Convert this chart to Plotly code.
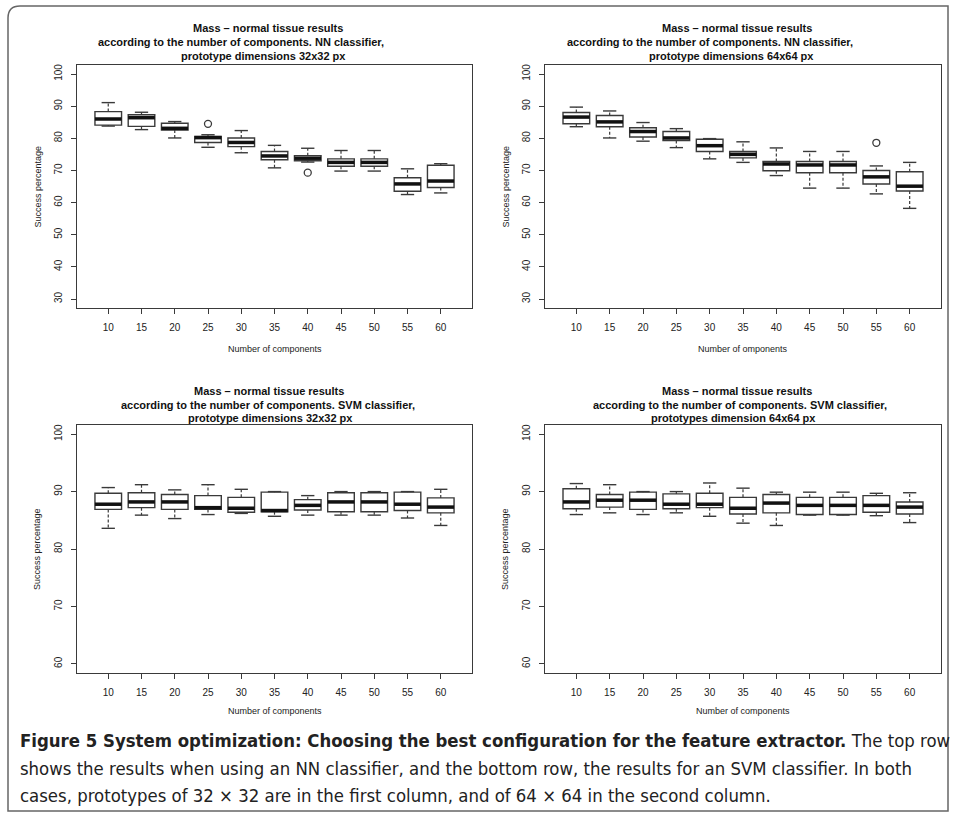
import plotly.graph_objects as go

# ---------------- data ----------------
categories = [10, 15, 20, 25, 30, 35, 40, 45, 50, 55, 60]

nn32_upper = [91.1, 88.1, 85.2, 81.1, 82.4, 77.8, 76.9, 76.2, 76.2, 70.5, 72.1]
nn32_q3    = [88.3, 87.3, 84.7, 80.6, 80.1, 75.9, 74.6, 73.6, 73.6, 67.7, 71.6]
nn32_med   = [86.0, 86.4, 83.1, 80.2, 78.7, 74.5, 73.8, 72.5, 72.5, 65.8, 66.7]
nn32_q1    = [84.1, 83.7, 82.6, 78.7, 77.4, 73.3, 73.0, 71.3, 71.3, 63.5, 64.7]
nn32_lower = [83.8, 82.7, 80.1, 77.2, 75.5, 70.8, 72.6, 69.8, 69.8, 62.5, 63.0]
nn32_out_x = [25, 40]
nn32_out_y = [84.5, 69.3]

nn64_upper = [89.7, 88.5, 84.9, 83.0, 79.9, 78.9, 77.0, 75.9, 75.9, 71.4, 72.5]
nn64_q3    = [88.0, 87.1, 83.3, 82.1, 79.7, 75.9, 72.8, 72.8, 72.8, 70.0, 69.6]
nn64_med   = [86.6, 85.1, 82.1, 80.1, 77.7, 75.0, 72.0, 71.7, 71.7, 68.0, 65.1]
nn64_q1    = [84.5, 83.6, 80.4, 79.3, 75.9, 73.9, 69.9, 69.3, 69.3, 65.8, 63.6]
nn64_lower = [83.6, 80.1, 79.1, 77.1, 73.6, 72.5, 68.4, 64.5, 64.5, 62.7, 58.2]
nn64_out_x = [55]
nn64_out_y = [78.6]

svm32_upper = [90.7, 91.2, 90.3, 91.2, 90.4, 90.0, 89.3, 90.0, 90.0, 90.0, 90.4]
svm32_q3    = [89.7, 89.8, 89.5, 89.3, 89.0, 89.9, 88.6, 89.8, 89.8, 89.9, 88.9]
svm32_med   = [87.8, 88.2, 88.2, 87.2, 87.1, 86.7, 87.6, 88.2, 88.2, 87.8, 87.3]
svm32_q1    = [86.9, 87.2, 86.9, 86.9, 86.4, 86.5, 86.8, 86.5, 86.5, 86.7, 86.3]
svm32_lower = [83.6, 85.9, 85.3, 86.0, 86.2, 85.7, 85.9, 85.9, 85.9, 85.4, 84.1]

svm64_upper = [91.4, 91.2, 90.0, 90.0, 91.5, 90.6, 89.9, 89.9, 89.9, 89.7, 89.8]
svm64_q3    = [90.5, 89.5, 89.9, 89.6, 89.7, 89.0, 89.5, 89.0, 89.0, 89.3, 88.2]
svm64_med   = [88.2, 88.5, 88.5, 87.8, 87.8, 87.1, 88.0, 87.6, 87.6, 87.6, 87.3]
svm64_q1    = [87.0, 87.3, 86.9, 87.0, 87.2, 86.1, 86.3, 86.0, 86.0, 86.4, 86.1]
svm64_lower = [86.0, 86.3, 86.0, 86.3, 85.7, 84.5, 84.1, 85.9, 85.9, 85.8, 84.6]

top_yticks = [30, 40, 50, 60, 70, 80, 90, 100]
bottom_yticks = [60, 70, 80, 90, 100]

titles = [
    ["Mass \u2013 normal tissue results",
     "according to the number of components. NN classifier,",
     "prototype dimensions 32x32 px"],
    ["Mass \u2013 normal tissue results",
     "according to the number of components. NN classifier,",
     "prototype dimensions 64x64 px"],
    ["Mass \u2013 normal tissue results",
     "according to the number of components. SVM classifier,",
     "prototype dimensions 32x32 px"],
    ["Mass \u2013 normal tissue results",
     "according to the number of components. SVM classifier,",
     "prototypes dimension 64x64 px"],
]
xtitles = ["Number of components", "Number of omponents",
           "Number of components", "Number of components"]
ytitle = "Success percentage"

caption_bold = "Figure 5 System optimization: Choosing the best configuration for the feature extractor."
caption_lines = [
    " The top row",
    "shows the results when using an NN classifier, and the bottom row, the results for an SVM classifier. In both",
    "cases, prototypes of 32 \u00d7 32 are in the first column, and of 64 \u00d7 64 in the second column.",
]

# ---------------- layout geometry ----------------
W, H = 954, 815
def px(x): return x / W
def py(y): return 1 - y / H

panels = [
    dict(x0=77, x1=472, y0=65, y1=308, data=(nn32_lower, nn32_q1, nn32_med, nn32_q3, nn32_upper),
         out=(nn32_out_x, nn32_out_y), yr=[27.2, 102.8], yt=top_yticks,
         tcent=[268, 241, 263], ty=[28, 42, 56]),
    dict(x0=545, x1=941, y0=65, y1=308, data=(nn64_lower, nn64_q1, nn64_med, nn64_q3, nn64_upper),
         out=(nn64_out_x, nn64_out_y), yr=[27.2, 102.8], yt=top_yticks,
         tcent=[737, 710, 731], ty=[28, 42, 56]),
    dict(x0=77, x1=472, y0=425, y1=673, data=(svm32_lower, svm32_q1, svm32_med, svm32_q3, svm32_upper),
         out=([], []), yr=[58.4, 101.6], yt=bottom_yticks,
         tcent=[269, 268, 270], ty=[391, 405, 418]),
    dict(x0=545, x1=941, y0=425, y1=673, data=(svm64_lower, svm64_q1, svm64_med, svm64_q3, svm64_upper),
         out=([], []), yr=[58.4, 101.6], yt=bottom_yticks,
         tcent=[737, 740, 733], ty=[391, 405, 418]),
]

LC = "#3a3a3a"
FONT = "Liberation Sans, Arial, sans-serif"
fig = go.Figure()
annotations = []
layout_axes = {}

for i, p in enumerate(panels):
    n = "" if i == 0 else str(i + 1)
    xa, ya = "x" + n, "y" + n
    lower, q1, med, q3, upper = p["data"]

    fig.add_trace(go.Box(
        x=categories, q1=q1, median=med, q3=q3, lowerfence=q1, upperfence=q3,
        width=4, whiskerwidth=0, fillcolor="white",
        line=dict(color=LC, width=1.4), xaxis=xa, yaxis=ya,
        showlegend=False, hoverinfo="skip", boxpoints=False))

    wx, wy = [], []
    for c, lo, a, b, up in zip(categories, lower, q1, q3, upper):
        wx += [c, c, None, c, c, None]
        wy += [b, up, None, a, lo, None]
    fig.add_trace(go.Scatter(x=wx, y=wy, mode="lines",
                             line=dict(color=LC, width=1.2, dash="3px,2px"),
                             xaxis=xa, yaxis=ya, showlegend=False, hoverinfo="skip"))
    sx, sy = [], []
    for c, lo, up in zip(categories, lower, upper):
        sx += [c - 1, c + 1, None, c - 1, c + 1, None]
        sy += [up, up, None, lo, lo, None]
    fig.add_trace(go.Scatter(x=sx, y=sy, mode="lines", line=dict(color=LC, width=1.4),
                             xaxis=xa, yaxis=ya, showlegend=False, hoverinfo="skip"))
    mx, my = [], []
    for c, m in zip(categories, med):
        mx += [c - 2, c + 2, None]
        my += [m, m, None]
    fig.add_trace(go.Scatter(x=mx, y=my, mode="lines", line=dict(color="#111", width=3.5),
                             xaxis=xa, yaxis=ya, showlegend=False, hoverinfo="skip"))
    ox, oy = p["out"]
    if ox:
        fig.add_trace(go.Scatter(x=ox, y=oy, mode="markers",
                                 marker=dict(symbol="circle-open", size=7, color=LC, line=dict(width=1.3)),
                                 xaxis=xa, yaxis=ya, showlegend=False, hoverinfo="skip"))

    common = dict(showline=True, mirror=True, linecolor=LC, linewidth=1.3,
                  ticks="outside", ticklen=5, tickcolor=LC, tickwidth=1.2,
                  showgrid=False, zeroline=False,
                  tickfont=dict(family=FONT, size=10, color="#222"))
    layout_axes["xaxis" + n] = dict(domain=[px(p["x0"]), px(p["x1"])], anchor=ya,
                                    range=[5.3, 64.7], tickvals=categories,
                                    ticktext=[str(c) for c in categories],
                                    ticklabelstandoff=5, **common)
    layout_axes["yaxis" + n] = dict(domain=[py(p["y1"]), py(p["y0"])], anchor=xa,
                                    range=p["yr"], tickvals=p["yt"], tickangle=-90,
                                    ticklabelstandoff=5, **common)

    for j, line in enumerate(titles[i]):
        annotations.append(dict(text="<b>" + line + "</b>", x=px(p["tcent"][j]), y=py(p["ty"][j]),
                                xref="paper", yref="paper", xanchor="center", yanchor="middle",
                                showarrow=False, font=dict(family=FONT, size=11, color="#111")))
    xc = (p["x0"] + p["x1"]) / 2
    annotations.append(dict(text=xtitles[i], x=px(xc), y=py(p["y1"] + 41 if i < 2 else p["y1"] + 38),
                            xref="paper", yref="paper", xanchor="center", yanchor="middle",
                            showarrow=False, font=dict(family=FONT, size=9, color="#222")))
    annotations.append(dict(text=ytitle, x=px(p["x0"] - 40), y=py((p["y0"] + p["y1"]) / 2),
                            xref="paper", yref="paper", xanchor="center", yanchor="middle",
                            textangle=-90, showarrow=False,
                            font=dict(family=FONT, size=9, color="#222")))

CAPF = "Liberation Sans Narrow, DejaVu Sans Condensed, Arial Narrow, sans-serif"
cap_texts = ["<b>" + caption_bold + "</b>" + caption_lines[0], caption_lines[1], caption_lines[2]]
for k, (t, yy) in enumerate(zip(cap_texts, [740, 768, 795])):
    annotations.append(dict(text=t, x=px(18), y=py(yy), xref="paper", yref="paper",
                            xanchor="left", yanchor="middle", showarrow=False,
                            font=dict(family=CAPF, size=18.4, color="#222")))

# outer frame with rounded top-left corner
L, T, R, B, r = 8, 6, 948, 811, 12
path = (f"M {px(L)},{py(B)} L {px(L)},{py(T + r)} Q {px(L)},{py(T)} {px(L + r)},{py(T)} "
        f"L {px(R)},{py(T)} L {px(R)},{py(B)} Z")

fig.update_layout(
    width=W, height=H, margin=dict(l=0, r=0, t=0, b=0),
    paper_bgcolor="white", plot_bgcolor="white",
    showlegend=False, annotations=annotations,
    shapes=[dict(type="path", path=path, xref="paper", yref="paper",
                 line=dict(color="#666", width=1.5), layer="below")],
    **layout_axes,
)

fig.write_html("out.html")
